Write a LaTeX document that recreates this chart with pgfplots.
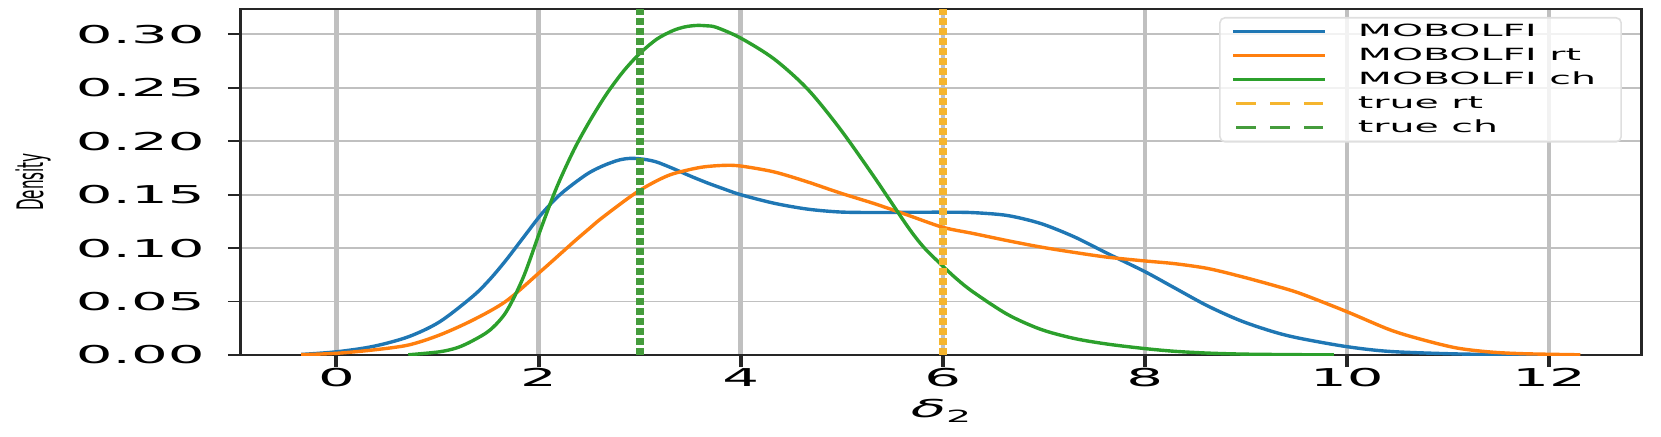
\documentclass[border=0pt]{standalone}
\usepackage{pgfplots}
\pgfplotsset{compat=1.18}
\usepackage{fontspec}
\setmainfont{DejaVu Sans}
\usepackage{graphicx}

\definecolor{cblue}{HTML}{1F77B4}
\definecolor{corange}{HTML}{FF7F0E}
\definecolor{cgreen}{HTML}{2CA02C}
\definecolor{trt}{HTML}{F5B52E}
\definecolor{tch}{HTML}{459C3C}
\definecolor{gridc}{HTML}{C0C0C0}
\definecolor{spine}{HTML}{262626}

\newcommand{\sx}[1]{\scalebox{2.35}[1]{#1}}

\pgfplotstableread{
x y
-0.35 0.0005
0.00 0.003
0.36 0.008
0.71 0.017
1.02 0.031
1.35 0.055
1.52 0.071
1.68 0.089
1.85 0.110
2.03 0.132
2.20 0.149
2.35 0.1605
2.50 0.1705
2.65 0.1775
2.80 0.1825
2.92 0.1840
3.05 0.1830
3.17 0.1805
3.33 0.1745
3.50 0.1675
3.67 0.1610
3.83 0.1555
4.00 0.1500
4.33 0.1420
4.66 0.1365
4.98 0.1338
5.32 0.1333
5.65 0.1335
6.00 0.1336
6.30 0.1332
6.64 0.1305
6.97 0.1230
7.30 0.1106
7.63 0.0950
8.00 0.0780
8.29 0.0630
8.62 0.0460
8.95 0.0320
9.28 0.0215
9.54 0.0155
10.00 0.0078
10.43 0.0033
11.09 0.0010
11.75 0.0002
11.95 0.0001
}\blue

\pgfplotstableread{
x y
-0.35 0.0003
0.00 0.0016
0.36 0.0047
0.71 0.0093
1.02 0.0187
1.35 0.0327
1.68 0.0505
2.03 0.0790
2.35 0.1060
2.51 0.1190
2.61 0.1270
2.84 0.1435
3.00 0.1540
3.17 0.1630
3.33 0.1695
3.60 0.1755
3.83 0.1774
4.00 0.1768
4.33 0.1713
4.66 0.1620
4.98 0.1517
5.32 0.1417
5.65 0.1310
6.00 0.1195
6.30 0.1137
6.64 0.1070
6.97 0.1010
7.30 0.0960
7.63 0.0915
8.00 0.0880
8.29 0.0855
8.62 0.0810
8.95 0.0735
9.28 0.0650
9.54 0.0575
10.00 0.0405
10.43 0.0234
10.76 0.0140
11.09 0.0065
11.42 0.0028
11.75 0.0012
12.31 0.0002
}\orange

\pgfplotstableread{
x y
0.71 0.0002
1.02 0.0030
1.20 0.0070
1.35 0.0135
1.52 0.0234
1.68 0.0405
1.85 0.0730
2.03 0.1200
2.18 0.1570
2.35 0.1920
2.51 0.2195
2.675 0.2445
2.84 0.2655
3.00 0.2820
3.17 0.2955
3.33 0.3035
3.45 0.3070
3.56 0.3083
3.66 0.3080
3.76 0.3065
4.00 0.2965
4.33 0.2770
4.66 0.2490
4.98 0.2120
5.32 0.1667
5.65 0.1205
5.81 0.1010
5.98 0.0850
6.14 0.0710
6.30 0.0590
6.64 0.0380
6.97 0.0240
7.30 0.0155
7.63 0.0102
8.00 0.0060
8.29 0.0035
8.62 0.0018
9.00 0.0008
9.54 0.0003
9.87 0.0001
}\green

\begin{document}
\begin{tikzpicture}
\path[use as bounding box] (-120pt,-40.5pt) rectangle (710.5pt,177.5pt);
\begin{axis}[
  scale only axis, width=701pt, height=173pt,
  xmin=-0.955, xmax=12.92, ymin=0, ymax=0.3237,
  xtick={0,2,4,6,8,10,12},
  ytick={0,0.05,0.10,0.15,0.20,0.25,0.30},
  scaled y ticks=false,
  tick pos=left, tick align=outside, major tick length=6pt,
  xtick style={line width=2pt, color=spine},
  ytick style={line width=0.9pt, color=spine},
  axis line style={spine, line width=1pt},
  grid=major,
  major x grid style={gridc, line width=2.2pt},
  major y grid style={gridc, line width=0.9pt},
  /pgf/number format/assume math mode=true,
  ticklabel style={font=\fontsize{12.3}{14}\selectfont, text=black},
  yticklabel={\sx{\pgfmathprintnumber[fixed,fixed zerofill,precision=2]{\tick}}},
  xticklabel={\sx{\pgfmathprintnumber{\tick}}},
  yticklabel style={anchor=east, inner sep=0pt, xshift=-11.5pt},
  xticklabel style={anchor=north, inner sep=0pt, yshift=-0.5pt},
  every axis y label/.style={at={(axis description cs:0,0.5)}, xshift=-103.5pt, rotate=90, anchor=center, font=\fontsize{7.6}{9}\selectfont},
  every axis x label/.style={at={(axis description cs:0.5,0)}, yshift=-28pt, anchor=center, font=\fontsize{12.3}{14}\selectfont},
  ylabel={\scalebox{1}[2.4]{Density}},
  xlabel={\sx{{\itshape δ}\raisebox{-2.8pt}{\fontsize{8.4}{10}\selectfont 2}}},
  legend cell align=left,
  legend style={at={(rel axis cs:0.9857,0.9769)}, anchor=north east,
    draw=gray!25, line width=0.8pt, rounded corners=2.5pt,
    fill=white, fill opacity=0.8, text opacity=1,
    font=\fontsize{8.4}{10}\selectfont,
    inner xsep=6pt, inner ysep=3pt, row sep=4pt, column sep=15.5pt,
    nodes={inner sep=0pt, text height=6.5pt, text depth=1.5pt, anchor=west}},
]
\addplot[cblue, line width=1.7pt, smooth, legend image code/.code={\draw[line width=1.5pt] (0pt,0pt) -- (46pt,0pt);}] table[x=x,y=y] {\blue};
\addlegendentry{\sx{MOBOLFI}}
\addplot[corange, line width=1.7pt, smooth, legend image code/.code={\draw[line width=1.5pt] (0pt,0pt) -- (46pt,0pt);}] table[x=x,y=y] {\orange};
\addlegendentry{\sx{MOBOLFI rt}}
\addplot[cgreen, line width=1.7pt, smooth, legend image code/.code={\draw[line width=1.5pt] (0pt,0pt) -- (46pt,0pt);}] table[x=x,y=y] {\green};
\addlegendentry{\sx{MOBOLFI ch}\hspace*{6.5pt}}
\addplot[trt, line width=4pt, dash pattern=on 3.5pt off 1.5pt, legend image code/.code={\draw[line width=1.4pt, dash pattern=on 10pt off 7pt] (1.5pt,0pt) -- (45pt,0pt);}] coordinates {(6,0) (6,0.3237)};
\addlegendentry{\sx{true rt}}
\addplot[tch, line width=4pt, dash pattern=on 3.5pt off 1.5pt, legend image code/.code={\draw[line width=1.4pt, dash pattern=on 10pt off 7pt] (1.5pt,0pt) -- (45pt,0pt);}] coordinates {(3,0) (3,0.3237)};
\addlegendentry{\sx{true ch}}
\draw[spine, line width=2.2pt] (rel axis cs:0,0) -- (rel axis cs:0,1);
\draw[spine, line width=2.2pt] (rel axis cs:1,0) -- (rel axis cs:1,1);
\end{axis}
\end{tikzpicture}
\end{document}
